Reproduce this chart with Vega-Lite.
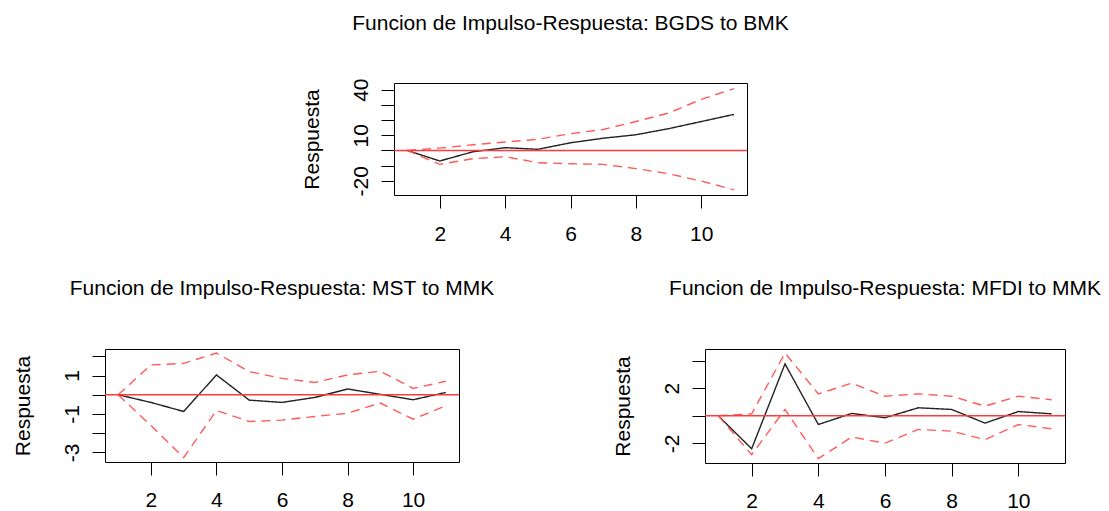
{
  "$schema": "https://vega.github.io/schema/vega-lite/v6.json",
  "background": "white",
  "padding": {"left": 11, "top": 12, "right": 2, "bottom": 0},
  "config": {
    "font": "Liberation Sans",
    "view": {"stroke": "#000", "strokeWidth": 1},
    "axis": {
      "grid": false, "domain": false, "tickColor": "#000", "tickSize": 13, "tickWidth": 1,
      "labelFontSize": 21, "labelColor": "#000", "labelFont": "Liberation Sans", "labelOverlap": false,
      "titleFontSize": 21, "titleFontWeight": "normal", "titleColor": "#000", "titleFont": "Liberation Sans"
    },
    "axisX": {"labelPadding": 14, "labelFlush": false},
    "axisY": {"labelAngle": -90, "labelPadding": 10, "titlePadding": 28},
    "title": {"fontSize": 21, "fontWeight": "normal", "color": "#000", "anchor": "middle", "font": "Liberation Sans"}
  },
  "spacing": 32,
  "vconcat": [
    {
      "spacing": 10,
      "hconcat": [
        {
          "width": 185, "height": 10,
          "view": {"stroke": null},
          "data": {"values": []},
          "mark": "point"
        },
        {
          "title": {"text": "Funcion de Impulso-Respuesta: BGDS to BMK", "offset": 44},
          "width": 353, "height": 112,
          "data": {"values": [
            {"h":1,"s":"irf","v":0},{"h":2,"s":"irf","v":-7},{"h":3,"s":"irf","v":-1},{"h":4,"s":"irf","v":1.8},{"h":5,"s":"irf","v":0.7},{"h":6,"s":"irf","v":5},{"h":7,"s":"irf","v":8},{"h":8,"s":"irf","v":10.3},{"h":9,"s":"irf","v":14.3},{"h":10,"s":"irf","v":19},{"h":11,"s":"irf","v":23.7},
            {"h":1,"s":"upper","v":0},{"h":2,"s":"upper","v":1.5},{"h":3,"s":"upper","v":3.7},{"h":4,"s":"upper","v":5.5},{"h":5,"s":"upper","v":7.3},{"h":6,"s":"upper","v":11},{"h":7,"s":"upper","v":13.8},{"h":8,"s":"upper","v":19},{"h":9,"s":"upper","v":24.6},{"h":10,"s":"upper","v":33.6},{"h":11,"s":"upper","v":40.7},
            {"h":1,"s":"lower","v":0},{"h":2,"s":"lower","v":-9.2},{"h":3,"s":"lower","v":-5.5},{"h":4,"s":"lower","v":-4.2},{"h":5,"s":"lower","v":-8.1},{"h":6,"s":"lower","v":-8.8},{"h":7,"s":"lower","v":-9.2},{"h":8,"s":"lower","v":-12},{"h":9,"s":"lower","v":-15.4},{"h":10,"s":"lower","v":-20.2},{"h":11,"s":"lower","v":-26}
          ]},
          "layer": [
            {
              "mark": {"type": "line", "strokeWidth": 1.4},
              "encoding": {
                "x": {"field": "h", "type": "quantitative", "scale": {"domain": [0.6, 11.4], "nice": false, "zero": false}, "axis": {"values": [2,4,6,8,10], "title": null, "labelOverlap": false, "labelPadding": 15}},
                "y": {"field": "v", "type": "quantitative", "scale": {"domain": [-29.4, 44.4], "nice": false, "zero": false},
                      "axis": {"title": "Respuesta", "values": [-20,-10,0,10,20,30,40], "labelOverlap": false, "labelExpr": "indexof([-20,10,40], datum.value) >= 0 ? '' + datum.value : ''"}},
                "detail": {"field": "s"},
                "color": {"field": "s", "type": "nominal", "scale": {"domain": ["irf","lower","upper"], "range": ["#222222","#ff5a5a","#ff5a5a"]}, "legend": null},
                "strokeDash": {"field": "s", "type": "nominal", "scale": {"domain": ["irf","lower","upper"], "range": [[1,0],[9,6],[9,6]]}, "legend": null}
              }
            },
            {
              "data": {"values": [{}]},
              "mark": {"type": "rule", "color": "#ff3b3b", "strokeWidth": 1.5},
              "encoding": {"y": {"datum": 0, "type": "quantitative", "scale": {"domain": [-29.4, 44.4], "nice": false, "zero": false},
                      "axis": {"title": "Respuesta", "values": [-20,-10,0,10,20,30,40], "labelOverlap": false, "labelExpr": "indexof([-20,10,40], datum.value) >= 0 ? '' + datum.value : ''"}}}
            }
          ]
        }
      ]
    },
    {
      "spacing": 116,
      "hconcat": [
        {
          "title": {"text": "Funcion de Impulso-Respuesta: MST to MMK", "offset": 50},
          "width": 354, "height": 113,
          "data": {"values": [
            {"h":1,"s":"irf","v":0},{"h":2,"s":"irf","v":-0.4},{"h":3,"s":"irf","v":-0.87},{"h":4,"s":"irf","v":1.03},{"h":5,"s":"irf","v":-0.28},{"h":6,"s":"irf","v":-0.4},{"h":7,"s":"irf","v":-0.14},{"h":8,"s":"irf","v":0.3},{"h":9,"s":"irf","v":0.02},{"h":10,"s":"irf","v":-0.26},{"h":11,"s":"irf","v":0.12},
            {"h":1,"s":"upper","v":0},{"h":2,"s":"upper","v":1.55},{"h":3,"s":"upper","v":1.63},{"h":4,"s":"upper","v":2.17},{"h":5,"s":"upper","v":1.2},{"h":6,"s":"upper","v":0.85},{"h":7,"s":"upper","v":0.64},{"h":8,"s":"upper","v":1.03},{"h":9,"s":"upper","v":1.22},{"h":10,"s":"upper","v":0.33},{"h":11,"s":"upper","v":0.7},
            {"h":1,"s":"lower","v":0},{"h":2,"s":"lower","v":-1.6},{"h":3,"s":"lower","v":-3.27},{"h":4,"s":"lower","v":-0.82},{"h":5,"s":"lower","v":-1.39},{"h":6,"s":"lower","v":-1.32},{"h":7,"s":"lower","v":-1.13},{"h":8,"s":"lower","v":-0.96},{"h":9,"s":"lower","v":-0.43},{"h":10,"s":"lower","v":-1.27},{"h":11,"s":"lower","v":-0.57}
          ]},
          "layer": [
            {
              "mark": {"type": "line", "strokeWidth": 1.4},
              "encoding": {
                "x": {"field": "h", "type": "quantitative", "scale": {"domain": [0.6, 11.4], "nice": false, "zero": false}, "axis": {"values": [2,4,6,8,10], "title": null, "labelOverlap": false}},
                "y": {"field": "v", "type": "quantitative", "scale": {"domain": [-3.5, 2.38], "nice": false, "zero": false},
                      "axis": {"title": "Respuesta", "values": [-3,-2,-1,0,1,2], "labelOverlap": false, "labelExpr": "indexof([-3,-1,1], datum.value) >= 0 ? '' + datum.value : ''"}},
                "detail": {"field": "s"},
                "color": {"field": "s", "type": "nominal", "scale": {"domain": ["irf","lower","upper"], "range": ["#222222","#ff5a5a","#ff5a5a"]}, "legend": null},
                "strokeDash": {"field": "s", "type": "nominal", "scale": {"domain": ["irf","lower","upper"], "range": [[1,0],[9,6],[9,6]]}, "legend": null}
              }
            },
            {
              "data": {"values": [{}]},
              "mark": {"type": "rule", "color": "#ff3b3b", "strokeWidth": 1.5},
              "encoding": {"y": {"datum": 0, "type": "quantitative", "scale": {"domain": [-3.5, 2.38], "nice": false, "zero": false},
                      "axis": {"title": "Respuesta", "values": [-3,-2,-1,0,1,2], "labelOverlap": false, "labelExpr": "indexof([-3,-1,1], datum.value) >= 0 ? '' + datum.value : ''"}}}
            }
          ]
        },
        {
          "title": {"text": "Funcion de Impulso-Respuesta: MFDI to MMK", "offset": 50},
          "width": 360, "height": 114,
          "data": {"values": [
            {"h":1,"s":"irf","v":0},{"h":2,"s":"irf","v":-2.39},{"h":3,"s":"irf","v":3.76},{"h":4,"s":"irf","v":-0.63},{"h":5,"s":"irf","v":0.17},{"h":6,"s":"irf","v":-0.14},{"h":7,"s":"irf","v":0.58},{"h":8,"s":"irf","v":0.46},{"h":9,"s":"irf","v":-0.53},{"h":10,"s":"irf","v":0.31},{"h":11,"s":"irf","v":0.14},
            {"h":1,"s":"upper","v":0},{"h":2,"s":"upper","v":0.14},{"h":3,"s":"upper","v":4.55},{"h":4,"s":"upper","v":1.59},{"h":5,"s":"upper","v":2.36},{"h":6,"s":"upper","v":1.42},{"h":7,"s":"upper","v":1.59},{"h":8,"s":"upper","v":1.42},{"h":9,"s":"upper","v":0.7},{"h":10,"s":"upper","v":1.42},{"h":11,"s":"upper","v":1.16},
            {"h":1,"s":"lower","v":0},{"h":2,"s":"lower","v":-2.82},{"h":3,"s":"lower","v":0.46},{"h":4,"s":"lower","v":-3.1},{"h":5,"s":"lower","v":-1.54},{"h":6,"s":"lower","v":-1.98},{"h":7,"s":"lower","v":-0.99},{"h":8,"s":"lower","v":-1.11},{"h":9,"s":"lower","v":-1.73},{"h":10,"s":"lower","v":-0.63},{"h":11,"s":"lower","v":-0.94}
          ]},
          "layer": [
            {
              "mark": {"type": "line", "strokeWidth": 1.4},
              "encoding": {
                "x": {"field": "h", "type": "quantitative", "scale": {"domain": [0.6, 11.4], "nice": false, "zero": false}, "axis": {"values": [2,4,6,8,10], "title": null, "labelOverlap": false}},
                "y": {"field": "v", "type": "quantitative", "scale": {"domain": [-3.42, 4.84], "nice": false, "zero": false},
                      "axis": {"title": "Respuesta", "values": [-2,0,2,4], "labelOverlap": false, "labelExpr": "indexof([-2,2], datum.value) >= 0 ? '' + datum.value : ''"}},
                "detail": {"field": "s"},
                "color": {"field": "s", "type": "nominal", "scale": {"domain": ["irf","lower","upper"], "range": ["#222222","#ff5a5a","#ff5a5a"]}, "legend": null},
                "strokeDash": {"field": "s", "type": "nominal", "scale": {"domain": ["irf","lower","upper"], "range": [[1,0],[9,6],[9,6]]}, "legend": null}
              }
            },
            {
              "data": {"values": [{}]},
              "mark": {"type": "rule", "color": "#ff3b3b", "strokeWidth": 1.5},
              "encoding": {"y": {"datum": 0, "type": "quantitative", "scale": {"domain": [-3.42, 4.84], "nice": false, "zero": false},
                      "axis": {"title": "Respuesta", "values": [-2,0,2,4], "labelOverlap": false, "labelExpr": "indexof([-2,2], datum.value) >= 0 ? '' + datum.value : ''"}}}
            }
          ]
        }
      ]
    }
  ]
}
